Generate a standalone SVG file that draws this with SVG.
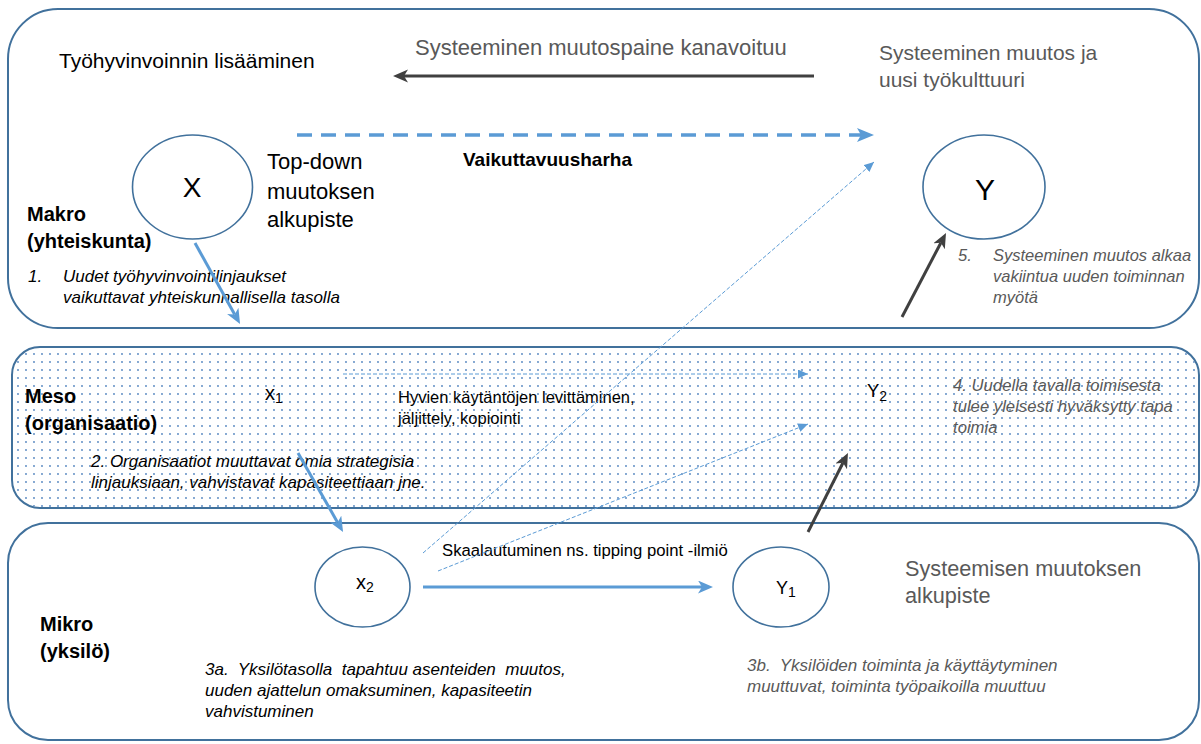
<svg xmlns="http://www.w3.org/2000/svg" width="1201" height="744" viewBox="0 0 1201 744">
<style>
text{font-family:"Liberation Sans",Arial,sans-serif;fill:#000}
.box{fill:#fff;stroke:#41719C;stroke-width:2}
.node{fill:#fff;stroke:#41719C;stroke-width:1.6}
.b{font-weight:bold;font-size:20px}
.gray{fill:#595959}
.it{font-style:italic}
.blue{stroke:#5B9BD5;stroke-width:3;fill:none}
.dark{stroke:#404040;stroke-width:3;fill:none}
.thin{stroke:#5B9BD5;stroke-width:1;fill:none;stroke-dasharray:4 2}
</style>
<defs>
<pattern id="dots" width="8" height="8" patternUnits="userSpaceOnUse">
<circle cx="2" cy="2" r="0.9" fill="#4F81BD"/>
</pattern>
<marker id="ab" markerUnits="userSpaceOnUse" markerWidth="16" markerHeight="14" refX="4" refY="6.5" orient="auto">
<path d="M0,0 L15,6.5 L0,13 L4,6.5 z" fill="#5B9BD5"/>
</marker>
<marker id="ad" markerUnits="userSpaceOnUse" markerWidth="16" markerHeight="14" refX="4" refY="6.5" orient="auto">
<path d="M0,0 L15,6.5 L0,13 L4,6.5 z" fill="#404040"/>
</marker>
<marker id="abig" markerUnits="userSpaceOnUse" markerWidth="18" markerHeight="15" refX="4" refY="7" orient="auto">
<path d="M0,0 L17,7 L0,14 L4,7 z" fill="#5B9BD5"/>
</marker>
<marker id="at" markerUnits="userSpaceOnUse" markerWidth="11" markerHeight="10" refX="10" refY="4.5" orient="auto">
<path d="M0,0 L10,4.5 L0,9 z" fill="#5B9BD5"/>
</marker>
</defs>

<g id="makro-level">
<rect class="box" x="8" y="9" width="1191" height="319" rx="50"/>
<text x="59" y="68" font-size="21">Työhyvinvoinnin lisääminen</text>
<text class="gray" x="415" y="55" font-size="22">Systeeminen muutospaine kanavoituu</text>
<text class="gray" font-size="21"><tspan x="879" y="60">Systeeminen muutos ja</tspan><tspan x="879" y="87">uusi työkulttuuri</tspan></text>
<text font-size="22"><tspan x="267" y="169">Top-down</tspan><tspan x="267" y="199">muutoksen</tspan><tspan x="267" y="227">alkupiste</tspan></text>
<text x="463" y="166" font-size="19" font-weight="bold">Vaikuttavuusharha</text>
<text class="b"><tspan x="27" y="221">Makro</tspan><tspan x="27" y="248">(yhteiskunta)</tspan></text>
<text class="it" font-size="17" fill="#1a1a1a"><tspan x="28" y="282">1.</tspan><tspan x="63" y="282">Uudet työhyvinvointilinjaukset</tspan><tspan x="63" y="303">vaikuttavat yhteiskunnallisella tasolla</tspan></text>
<text class="it gray" font-size="16.5"><tspan x="958" y="261">5.</tspan><tspan x="993" y="261">Systeeminen muutos alkaa</tspan><tspan x="993" y="282">vakiintua uuden toiminnan</tspan><tspan x="993" y="303">myötä</tspan></text>
</g>

<g id="meso-level">
<rect class="box" x="12" y="347" width="1187" height="161" rx="28"/>
<rect x="13" y="348" width="1185" height="159" rx="27" fill="url(#dots)"/>
<text class="b"><tspan x="25" y="403">Meso</tspan><tspan x="25" y="430">(organisaatio)</tspan></text>
<text class="it" font-size="17" fill="#1a1a1a"><tspan x="91" y="467">2. Organisaatiot muuttavat omia strategisia</tspan><tspan x="91" y="488">linjauksiaan, vahvistavat kapasiteettiaan jne.</tspan></text>
<text font-size="16.5"><tspan x="398" y="403">Hyvien käytäntöjen levittäminen,</tspan><tspan x="398" y="424">jäljittely, kopiointi</tspan></text>
<text class="it gray" font-size="16.7"><tspan x="953" y="391">4. Uudella tavalla toimisesta</tspan><tspan x="953" y="412">tulee yleisesti hyväksytty tapa</tspan><tspan x="953" y="433">toimia</tspan></text>
</g>

<g id="mikro-level">
<rect class="box" x="8" y="523" width="1191" height="217" rx="40"/>
<text class="b"><tspan x="40" y="631">Mikro</tspan><tspan x="40" y="658">(yksilö)</tspan></text>
<text x="442" y="556" font-size="16.7">Skaalautuminen ns. tipping point -ilmiö</text>
<text class="gray" font-size="21.7"><tspan x="905" y="576">Systeemisen muutoksen</tspan><tspan x="905" y="603">alkupiste</tspan></text>
<text class="it" font-size="17" fill="#1a1a1a" xml:space="preserve"><tspan x="205" y="675">3a.  Yksilötasolla  tapahtuu asenteiden  muutos,</tspan><tspan x="205" y="696">uuden ajattelun omaksuminen, kapasiteetin</tspan><tspan x="205" y="717">vahvistuminen</tspan></text>
<text class="it gray" font-size="17" xml:space="preserve"><tspan x="747" y="671">3b.  Yksilöiden toiminta ja käyttäytyminen</tspan><tspan x="747" y="692">muuttuvat, toiminta työpaikoilla muuttuu</tspan></text>
</g>

<g id="node-X">
<ellipse class="node" cx="192.5" cy="187" rx="60" ry="52"/>
<text x="192" y="197" font-size="28" text-anchor="middle">X</text>
</g>
<g id="node-Y">
<ellipse class="node" cx="984" cy="187" rx="61" ry="52"/>
<text x="985" y="200" font-size="30" text-anchor="middle">Y</text>
</g>
<g id="node-x1">
<text x="265" y="400" font-size="20">x<tspan dy="3" font-size="14">1</tspan></text>
</g>
<g id="node-Y2">
<text x="867" y="397" font-size="18.5">Y<tspan dy="4" font-size="14">2</tspan></text>
</g>
<g id="node-x2">
<ellipse class="node" cx="362.5" cy="587" rx="47.5" ry="40"/>
<text x="356" y="589" font-size="20">x<tspan dy="3" font-size="14">2</tspan></text>
</g>
<g id="node-Y1">
<ellipse class="node" cx="781" cy="587" rx="48" ry="40" stroke="#404040"/>
<text x="776" y="594" font-size="18">Y<tspan dy="3" font-size="14">1</tspan></text>
</g>

<g id="connectors">
<line class="dark" x1="814" y1="76" x2="404" y2="76" marker-end="url(#ad)"/>
<line stroke="#5B9BD5" stroke-width="3.5" stroke-dasharray="15 9" x1="297" y1="135" x2="861" y2="135" marker-end="url(#abig)"/>
<line class="blue" x1="195" y1="243" x2="234.7" y2="314.4" marker-end="url(#ab)"/>
<line class="blue" x1="298" y1="453" x2="337.6" y2="522.4" marker-end="url(#ab)"/>
<line class="blue" x1="423" y1="587" x2="702" y2="587" marker-end="url(#ab)"/>
<line class="dark" x1="808" y1="532" x2="843" y2="462.8" marker-end="url(#ad)"/>
<line class="dark" x1="902" y1="317" x2="940.9" y2="242.7" marker-end="url(#ad)"/>
<line class="thin" x1="343" y1="374" x2="808" y2="374" marker-end="url(#at)"/>
<line class="thin" stroke-dasharray="3 2" x1="423" y1="553" x2="874" y2="162" marker-end="url(#at)"/>
<line class="thin" x1="438" y1="571" x2="808" y2="424" marker-end="url(#at)"/>
</g>
</svg>
